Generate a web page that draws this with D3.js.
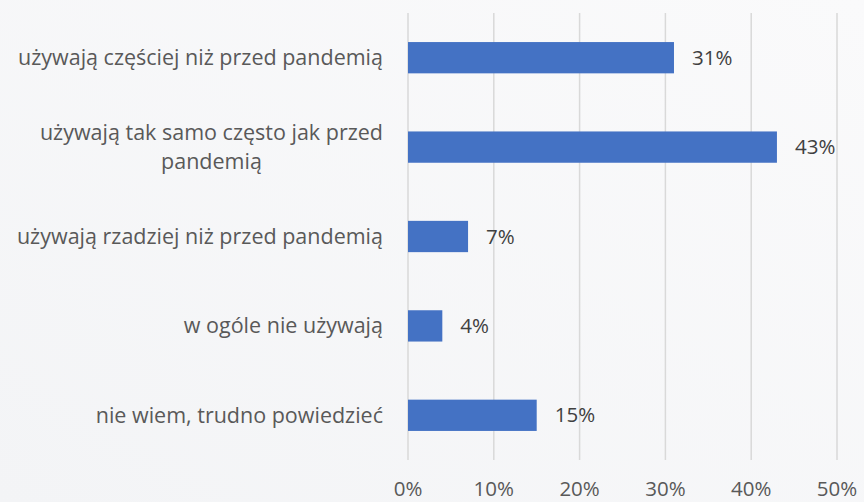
<html>
<head>
<meta charset="utf-8">
<script src="https://cdnjs.cloudflare.com/ajax/libs/d3/7.8.5/d3.min.js"></script>
<style>
  body { margin: 0; }
  svg { display: block; }
</style>
</head>
<body>
<svg width="864" height="502"></svg>
<script>
  // categories (top to bottom), lines for wrapped labels
  var categories = [
    ["używają częściej niż przed pandemią"],
    ["używają tak samo często jak przed", "pandemią"],
    ["używają rzadziej niż przed pandemią"],
    ["w ogóle nie używają"],
    ["nie wiem, trudno powiedzieć"]
  ];
  var values = [31, 43, 7, 4, 15];
  var ticks = [0, 10, 20, 30, 40, 50];

  var svg = d3.select("svg");
  var font = "'Open Sans', 'Noto Sans', sans-serif";

  // background
  var defs = svg.append("defs");
  var grad = defs.append("linearGradient").attr("id", "bg")
      .attr("x1", "0").attr("y1", "1").attr("x2", "1").attr("y2", "0");
  grad.append("stop").attr("offset", "0").attr("stop-color", "#f3f4f6");
  grad.append("stop").attr("offset", "1").attr("stop-color", "#fafafb");
  svg.append("rect").attr("width", 864).attr("height", 502).attr("fill", "url(#bg)");

  var x = d3.scaleLinear().domain([0, 50]).range([408, 837]);
  var y = d3.scaleBand().domain(d3.range(values.length)).range([13, 460]).paddingInner(0.65).paddingOuter(0.325);

  // gridlines
  svg.append("g").selectAll("line")
    .data(ticks)
    .enter()
    .append("line")
    .attr("x1", d => x(d)).attr("x2", d => x(d))
    .attr("y1", 13).attr("y2", 460)
    .attr("stroke", "#d9d9d9")
    .attr("stroke-width", 1.5);

  // x labels
  svg.append("g").selectAll("text")
    .data(ticks)
    .enter()
    .append("text")
    .attr("x", d => x(d))
    .attr("y", 496)
    .attr("text-anchor", "middle")
    .attr("font-family", font)
    .attr("font-size", 20.5)
    .attr("fill", "#595959")
    .text(d => d + "%");

  // bars
  svg.append("g").selectAll("rect")
    .data(values)
    .enter()
    .append("rect")
    .attr("x", x(0))
    .attr("y", (d, i) => y(i))
    .attr("width", d => x(d) - x(0))
    .attr("height", y.bandwidth())
    .attr("fill", "#4472c4");

  // value labels
  svg.append("g").selectAll("text")
    .data(values)
    .enter()
    .append("text")
    .attr("x", d => x(d) + 18)
    .attr("y", (d, i) => y(i) + y.bandwidth() / 2)
    .attr("dy", "0.35em")
    .attr("font-family", font)
    .attr("font-size", 20.5)
    .attr("fill", "#404040")
    .text(d => d + "%");

  // category labels
  var lineH = 29;
  var labels = svg.append("g").selectAll("g")
    .data(categories)
    .enter()
    .append("g");

  labels.each(function(lines, i) {
    var g = d3.select(this);
    var cy = y(i) + y.bandwidth() / 2 - (lines.length - 1) * lineH / 2;
    var t = g.append("text")
      .attr("font-family", font)
      .attr("font-size", 21.5)
      .attr("fill", "#595959");
    lines.forEach(function(line, k) {
      t.append("tspan").attr("y", cy + k * lineH).attr("dy", "0.35em").text(line);
    });
    // right-align block, centre lines within it
    var w = d3.max(t.selectAll("tspan").nodes(), n => n.getComputedTextLength());
    t.selectAll("tspan")
      .attr("x", 383 - w / 2)
      .attr("text-anchor", "middle");
  });
</script>
</body>
</html>
